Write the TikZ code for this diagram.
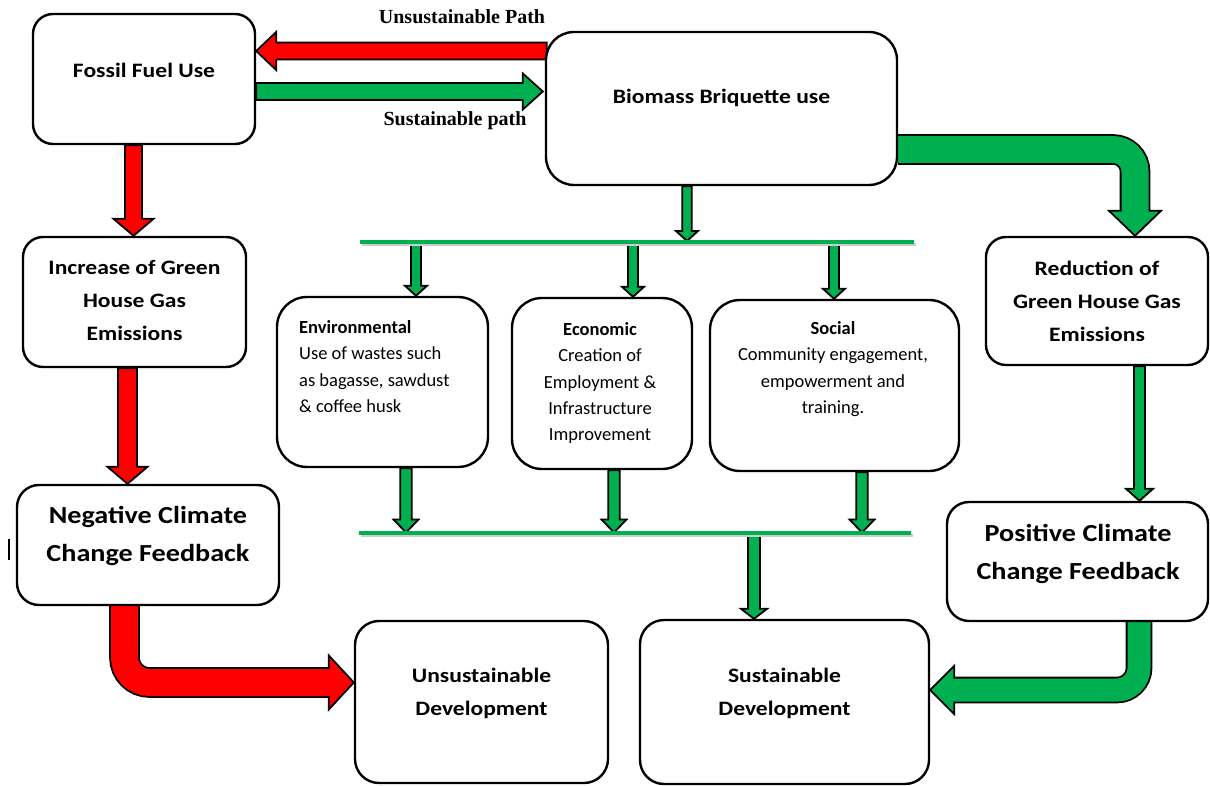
\documentclass[tikz,border=0pt]{standalone}
\usepackage{fontspec}
\setmainfont{Carlito}
\newfontfamily\widef[FakeStretch=1.15]{Carlito}
\newfontfamily\timesf{Liberation Serif}
\usetikzlibrary{calc,backgrounds}
\definecolor{gr}{RGB}{0,176,80}
\definecolor{rd}{RGB}{255,0,0}
\tikzset{
  box/.style={draw=black, line width=2.4pt, rounded corners=#1, fill=white, inner sep=0pt},
  box/.default=20pt,
  blk/.style={draw=black, line width=1.8pt, line join=miter},
  gline/.style={draw=gr, line width=4pt},
  txtbig/.style={font=\widef\bfseries\fontsize{20.5}{33}\selectfont, align=center, inner sep=0pt},
  txthuge/.style={font=\widef\bfseries\fontsize{24.5}{38}\selectfont, align=center, inner sep=0pt},
  txtsmall/.style={font=\fontsize{18.5}{26.3}\selectfont, inner sep=0pt},
  txtpath/.style={font=\timesf\bfseries\fontsize{20}{24}\selectfont, inner sep=0pt},
}
% vertical block arrow: colour, x-ref, tail-ref, tip-ref, shaft half, head half, head length (+ = down)
\newcommand\blkv[7]{%
  \filldraw[blk, fill=#1] let \p1=#2, \p2=#3, \p3=#4 in
   ({\x1-#5},{\y2}) -- ({\x1-#5},{\y3+(#7)}) -- ({\x1-#6},{\y3+(#7)}) -- ({\x1},{\y3}) --
   ({\x1+#6},{\y3+(#7)}) -- ({\x1+#5},{\y3+(#7)}) -- ({\x1+#5},{\y2}) -- cycle;}
% horizontal block arrow: colour, y-ref, tail-ref, tip-ref, shaft half, head half, head length (+ = right)
\newcommand\blkh[7]{%
  \filldraw[blk, fill=#1] let \p1=#2, \p2=#3, \p3=#4 in
   ({\x2},{\y1-#5}) -- ({\x3-(#7)},{\y1-#5}) -- ({\x3-(#7)},{\y1-#6}) -- ({\x3},{\y1}) --
   ({\x3-(#7)},{\y1+#6}) -- ({\x3-(#7)},{\y1+#5}) -- ({\x2},{\y1+#5}) -- cycle;}
% elbow: horizontal then vertical
\newcommand\elbowhv[7]{%
  \draw[black, line width=2*#4+3.6pt, rounded corners=#7] let \p1=#2, \p2=#3 in
    ({\x1},{\y1}) -- ({\x2},{\y1}) -- ({\x2},{\y2+(#6)});
  \draw[#1, line width=2*#4, rounded corners=#7] let \p1=#2, \p2=#3 in
    ({\x1},{\y1}) -- ({\x2},{\y1}) -- ({\x2},{\y2+0.9*(#6)});
  \fill[#1] let \p2=#3 in ({\x2-#5},{\y2+(#6)}) -- ({\x2},{\y2}) -- ({\x2+#5},{\y2+(#6)}) -- cycle;
  \draw[blk] let \p2=#3 in ({\x2-#4},{\y2+(#6)}) -- ({\x2-#5},{\y2+(#6)}) -- ({\x2},{\y2}) --
    ({\x2+#5},{\y2+(#6)}) -- ({\x2+#4},{\y2+(#6)});}
% elbow: vertical then horizontal
\newcommand\elbowvh[7]{%
  \draw[black, line width=2*#4+3.6pt, rounded corners=#7] let \p1=#2, \p2=#3 in
    ({\x1},{\y1}) -- ({\x1},{\y2}) -- ({\x2-(#6)},{\y2});
  \draw[#1, line width=2*#4, rounded corners=#7] let \p1=#2, \p2=#3 in
    ({\x1},{\y1}) -- ({\x1},{\y2}) -- ({\x2-0.9*(#6)},{\y2});
  \fill[#1] let \p2=#3 in ({\x2-(#6)},{\y2-#5}) -- ({\x2},{\y2}) -- ({\x2-(#6)},{\y2+#5}) -- cycle;
  \draw[blk] let \p2=#3 in ({\x2-(#6)},{\y2-#4}) -- ({\x2-(#6)},{\y2-#5}) -- ({\x2},{\y2}) --
    ({\x2-(#6)},{\y2+#5}) -- ({\x2-(#6)},{\y2+#4});}
\begin{document}
\begin{tikzpicture}[x=1pt,y=-1pt]
\useasboundingbox (0,0) rectangle (1210,786);
% boxes
\node[box=20pt, minimum width=222pt, minimum height=130pt] (fossil) at (144,79) {};
\node[box=28pt, minimum width=351pt, minimum height=153pt] (biomass) at (721.5,108.5) {};
\node[box=20pt, minimum width=223pt, minimum height=130pt] (increase) at (134.5,302) {};
\node[box=22pt, minimum width=262pt, minimum height=120pt] (negative) at (148,545) {};
\node[box=24pt, minimum width=253pt, minimum height=162pt] (unsdev) at (481.5,702) {};
\node[box=24pt, minimum width=289pt, minimum height=164pt] (susdev) at (784.5,702) {};
\node[box=20pt, minimum width=222pt, minimum height=128pt] (reduction) at (1097,301) {};
\node[box=22pt, minimum width=261pt, minimum height=119pt] (positive) at (1077.5,561.5) {};
\node[box=30pt, minimum width=211pt, minimum height=170pt] (env) at (382.5,382) {};
\node[box=30pt, minimum width=180pt, minimum height=171pt] (econ) at (602,383.5) {};
\node[box=30pt, minimum width=249pt, minimum height=171pt] (social) at (834.5,385.5) {};
% texts
\node[txtbig] (fossiltxt) at ([yshift=9pt]fossil.center) {Fossil Fuel Use};
\node[txtbig] (biomasstxt) at ([yshift=10.5pt]biomass.center) {Biomass Briquette use};
\node[txtbig] (increasetxt) at ([yshift=1.5pt]increase.center) {Increase of Green\\House Gas\\Emissions};
\node[txthuge] (negativetxt) at ([yshift=9pt]negative.center) {Negative Climate\\Change Feedback};
\node[txtbig] (unsdevtxt) at ([yshift=8.5pt]unsdev.center) {Unsustainable\\Development};
\node[txtbig] (susdevtxt) at ([yshift=9pt]susdev.center) {Sustainable\\Development};
\node[txtbig] (reductiontxt) at (reduction.center) {Reduction of\\Green House Gas\\Emissions};
\node[txthuge] (positivetxt) at ([xshift=0.5pt,yshift=8pt]positive.center) {Positive Climate\\Change Feedback};
\node[txtsmall, anchor=west, align=left] (envtxt) at (299,366.5)
  {\textbf{Environmental}\\Use of wastes such\\as bagasse, sawdust\\\& coffee husk};
\node[txtsmall, align=center] (econtxt) at (600,383)
  {\textbf{Economic}\\Creation of\\Employment \&\\Infrastructure\\Improvement};
\node[txtsmall, align=center] (socialtxt) at (833,369)
  {\textbf{Social}\\Community engagement,\\empowerment and\\training.};
\node[txtpath] (unspath) at (462,17) {Unsustainable Path};
\node[txtpath] (suspath) at (455,121) {Sustainable path};
% green bars
\coordinate (tl1) at (360,242.5); \coordinate (tl2) at (914,242.5);
\coordinate (bl1) at (359,532.5); \coordinate (bl2) at (911,532.5);
\coordinate (tb) at (687,241);
\draw[black!20, line width=3pt] ([shift={(1.5,2.5)}]tl1) -- ([shift={(1.5,2.5)}]tl2);
\draw[black!20, line width=3pt] ([shift={(1.5,2.5)}]bl1) -- ([shift={(1.5,2.5)}]bl2);
\draw[gline] (tl1) -- (tl2);
\draw[gline] (bl1) -- (bl2);
% stray mark
\draw[line width=2.5pt] (9,539) -- (9,560);
\begin{pgfonlayer}{background}
\fill[white] (0,0) rectangle (1210,786);
\blkh{rd}{([yshift=28pt]fossil.east)}{([xshift=2pt]biomass.west)}{(fossil.east)}{8.5pt}{19pt}{-20pt}
\blkh{gr}{([yshift=17pt]biomass.west)}{(fossil.east)}{([xshift=-2pt]biomass.west)}{8.5pt}{18pt}{20pt}
\blkv{rd}{([xshift=-1pt]increase.north)}{(fossil.south)}{(increase.north)}{8.5pt}{20pt}{17pt}
\blkv{rd}{([xshift=-20.5pt]negative.north)}{(increase.south)}{(negative.north)}{9.5pt}{20pt}{17pt}
\blkv{gr}{(tb)}{(biomass.south)}{(tb)}{4.7pt}{11pt}{10pt}
\blkv{gr}{([xshift=33.5pt]env.north)}{(tl1)}{(env.north)}{5pt}{11pt}{10pt}
\blkv{gr}{([xshift=31pt]econ.north)}{(tl1)}{(econ.north)}{5pt}{11pt}{10pt}
\blkv{gr}{([xshift=-0.5pt]social.north)}{(tl1)}{(social.north)}{5pt}{11pt}{10pt}
\blkv{gr}{([xshift=23.5pt]env.south)}{(env.south)}{(bl1)}{5.75pt}{12.5pt}{13pt}
\blkv{gr}{([xshift=12pt]econ.south)}{(econ.south)}{(bl1)}{5.75pt}{12.5pt}{13pt}
\blkv{gr}{([xshift=27.5pt]social.south)}{(social.south)}{(bl1)}{5.75pt}{12.5pt}{13pt}
\blkv{gr}{([xshift=-30.5pt]susdev.north)}{(bl1)}{(susdev.north)}{6pt}{13pt}{10pt}
\blkv{gr}{([xshift=42.5pt]reduction.south)}{(reduction.south)}{(positive.north)}{5.5pt}{13.5pt}{12pt}
\elbowhv{gr}{([yshift=-41pt]biomass.east)}{([xshift=38pt]reduction.north)}{13.5pt}{26pt}{25pt}{22pt}
\elbowvh{rd}{([xshift=-23.5pt]negative.south)}{([yshift=19.5pt]unsdev.west)}{13.5pt}{27pt}{25pt}{25pt}
\elbowvh{gr}{([xshift=61.5pt]positive.south)}{([yshift=12pt]susdev.east)}{11.5pt}{24pt}{-24pt}{22pt}
\end{pgfonlayer}
\end{tikzpicture}
\end{document}
